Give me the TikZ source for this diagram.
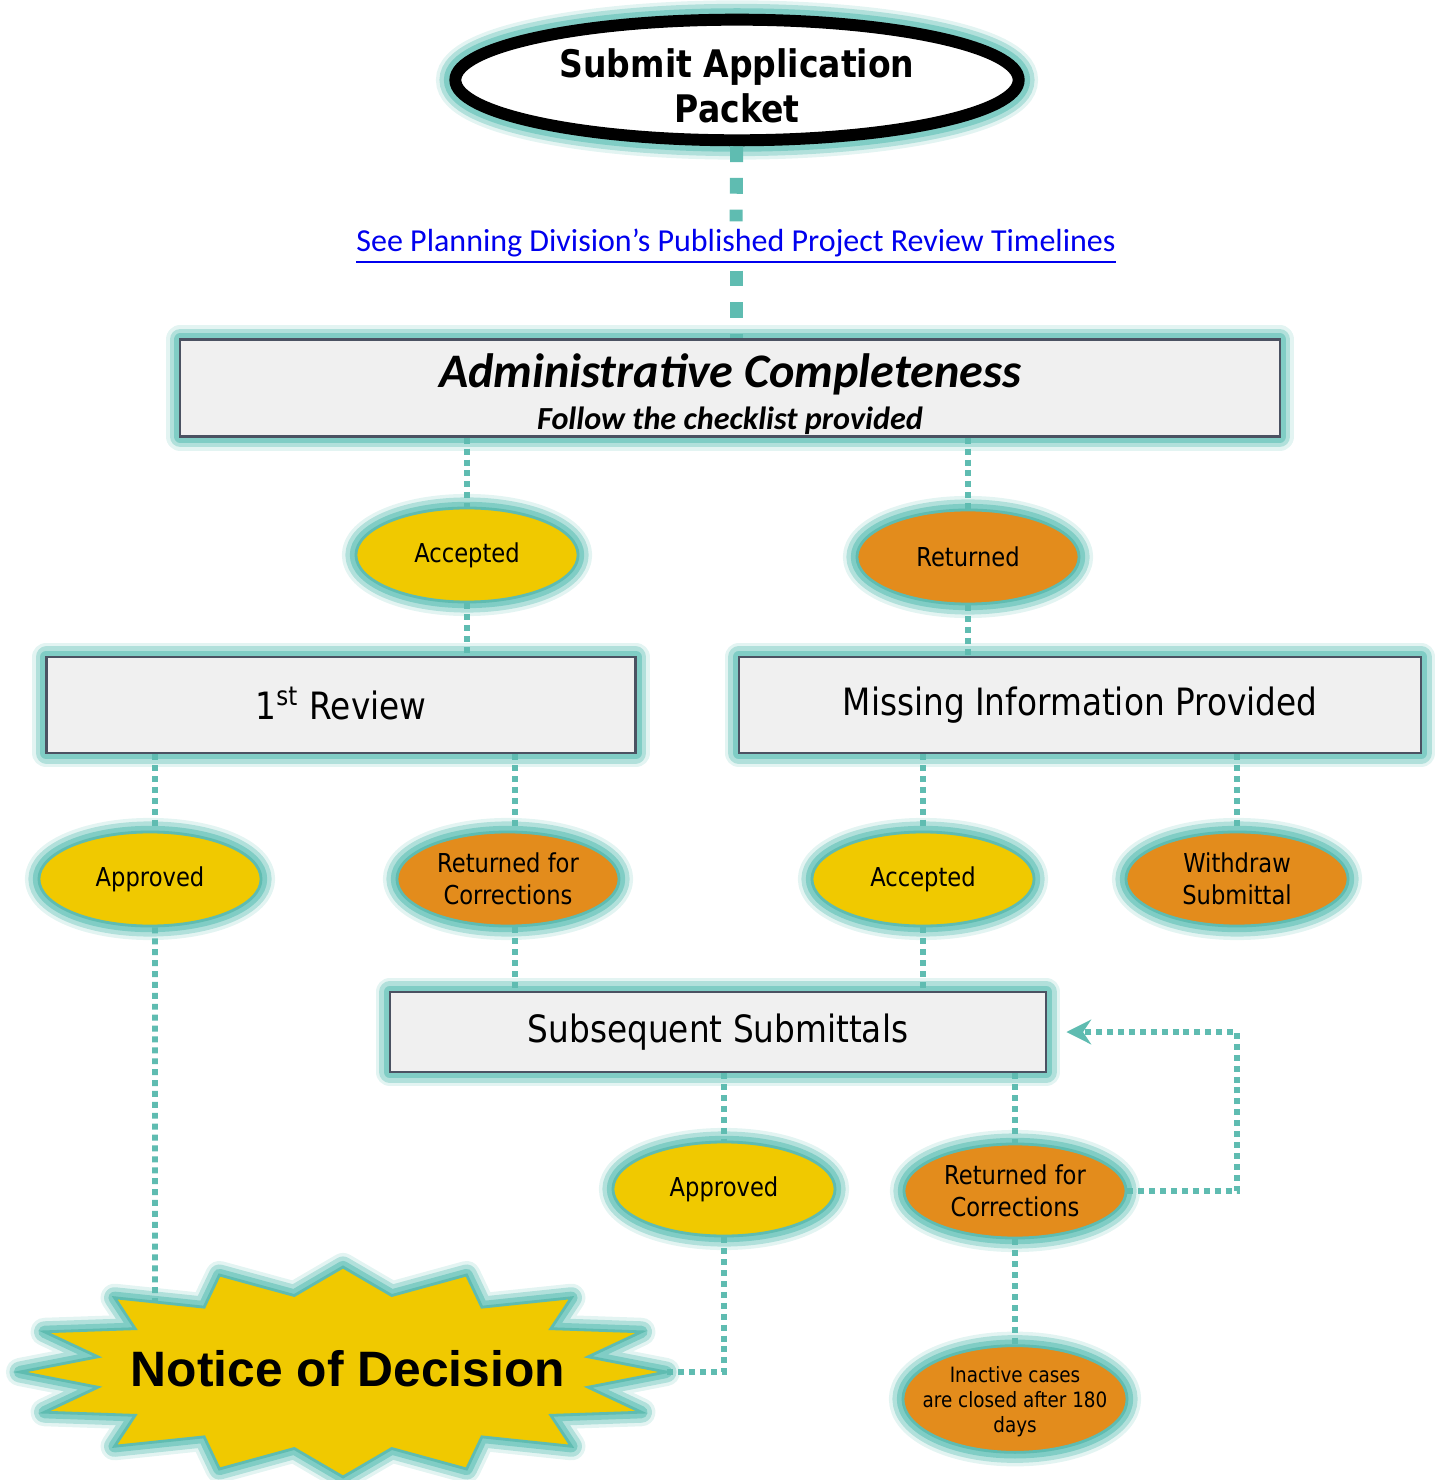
\documentclass[tikz,border=0pt]{standalone}
\usepackage{fontspec}
\setmainfont{DejaVu Sans}[FakeStretch=0.87]
\newfontfamily\calibrifont{Carlito}
\newfontfamily\arialfont{Liberation Sans}
\usepackage{tikz}
\usetikzlibrary{shapes.geometric, arrows.meta, positioning}

\definecolor{glowteal}{HTML}{74C8BF}
\definecolor{lineteal}{HTML}{5FBCB1}
\definecolor{goldfill}{HTML}{F0C900}
\definecolor{orangefill}{HTML}{E38C1C}
\definecolor{boxfill}{HTML}{F0F0F0}
\definecolor{boxline}{HTML}{4B5262}
\definecolor{linkblue}{HTML}{0000EE}

% underlined link text
\newcommand\linkline[1]{\leavevmode\vtop{\hbox{#1}\kern1.1pt\hrule height 0.55pt}}

\begin{document}
\begin{tikzpicture}[x=0.01cm, y=-0.01cm,
  glow/.style={preaction={draw=glowteal, line join=round, line width=8pt, opacity=.2},
               preaction={draw=glowteal, line join=round, line width=6pt, opacity=.45},
               preaction={draw=glowteal, line join=round, line width=3.5pt, opacity=.8}},
  stepbox/.style={glow, rectangle, draw=boxline, line width=0.7pt, fill=boxfill,
                  inner sep=0pt, minimum height=0.96cm,
                  font=\fontsize{10.7}{13}\selectfont},
  okoval/.style={glow, ellipse, draw=lineteal, line width=0.8pt, fill=goldfill,
                 minimum width=2.22cm, minimum height=0.94cm, inner sep=0pt,
                 align=center, font=\fontsize{7.4}{9.1}\selectfont},
  backoval/.style={okoval, fill=orangefill},
  conn/.style={draw=lineteal, line width=1.7pt, dash pattern=on 1.7pt off 1.4pt},
  bigconn/.style={conn, line width=3.7pt, dash pattern=on 4.5pt off 4.5pt}
]
\useasboundingbox (0,0) rectangle (1434,1480);

% Start
\node[ellipse, draw=black, line width=3.4pt, fill=white, inner sep=0pt,
      minimum width=5.63cm, minimum height=1.08cm, align=center,
      preaction={draw=glowteal, line width=11pt, opacity=.2},
      preaction={draw=glowteal, line width=9pt, opacity=.45},
      preaction={draw=glowteal, line width=6.5pt, opacity=.8},
      font=\bfseries\fontsize{10.8}{12.8}\selectfont] (submit) at (737,80)
      {\rule{0pt}{11.3pt}Submit Application\\Packet};
\node[font=\calibrifont\fontsize{9.1}{11}\selectfont, text=linkblue, inner sep=2pt] (link) at (736,246)
      {\linkline{See Planning Division’s Published Project Review Timelines}};

% Completeness check
\node[stepbox, minimum width=10.99cm, minimum height=0.97cm, align=center] (admin) at (730,388)
      {{\calibrifont\bfseries\itshape\fontsize{13.7}{15}\selectfont\rule{0pt}{13.2pt}Administrative Completeness}\\[-1pt]
       {\calibrifont\bfseries\itshape\fontsize{9.15}{11}\selectfont Follow the checklist provided}};
\node[okoval] (acc1) at (467,555) {Accepted};
\node[backoval] (ret1) at (968,557) {Returned};

% First round
\node[stepbox, minimum width=5.89cm] (review) at (341,705) {1\smash{\textsuperscript{st}} Review};
\node[stepbox, minimum width=6.82cm] (missing) at (1080,705) {Missing Information Provided};
\node[okoval] (app1) at (150,879) {Approved};
\node[backoval] (ret2) at (508,879) {Returned for\\Corrections};
\node[okoval] (acc2) at (923,879) {Accepted};
\node[backoval] (wd) at (1237,879) {Withdraw\\Submittal};

% Later rounds
\node[stepbox, minimum width=6.56cm, minimum height=0.80cm] (subs) at (718,1032) {Subsequent Submittals};
\node[okoval] (app2) at (724,1189) {Approved};
\node[backoval] (ret3) at (1015,1191) {Returned for\\Corrections};
\node[backoval, minimum width=2.24cm, minimum height=0.95cm, inner xsep=-5pt,
      font=\fontsize{6}{7.1}\selectfont] (inactive) at (1015,1399)
      {\rule{0pt}{6pt}Inactive cases\\are closed after 180\\days};

% Decision burst
\draw[glow, draw=lineteal, line width=0.8pt, fill=goldfill] (343+323,1372)
  \foreach \t in {0,22.5,...,337.5} {
    -- ({343+250*cos(\t+11.25)},{1372+78*sin(\t+11.25)})
    -- ({343+323*cos(\t+22.5)},{1372+105*sin(\t+22.5)})
  } -- cycle;
\node[font=\arialfont\bfseries\fontsize{14.15}{16}\selectfont] (nod) at (348,1369) {Notice of Decision};
\coordinate (nodtop) at (155,1302);
\coordinate (nodright) at (666,1372);

% Connectors
\draw[bigconn] (submit) -- (link);
\draw[bigconn] (link) -- (admin.north -| link);
\draw[conn] (acc1.north |- admin.south) -- (acc1.north);
\draw[conn] (acc1.south) -- (acc1.south |- review.north);
\draw[conn] (ret1.north |- admin.south) -- (ret1.north);
\draw[conn] (ret1.south) -- (ret1.south |- missing.north);
\draw[conn] ([xshift=0.05cm]app1.north |- review.south) -- ([xshift=0.05cm]app1.north);
\draw[conn] ([xshift=0.07cm]ret2.north |- review.south) -- ([xshift=0.07cm]ret2.north);
\draw[conn] (acc2.north |- missing.south) -- (acc2.north);
\draw[conn] (wd.north |- missing.south) -- (wd.north);
\draw[conn] ([xshift=0.07cm]ret2.south) -- ([xshift=0.07cm]ret2.south |- subs.north);
\draw[conn] (acc2.south) -- (acc2.south |- subs.north);
\draw[conn] (app2.north |- subs.south) -- (app2.north);
\draw[conn] (ret3.north |- subs.south) -- (ret3.north);
\draw[conn] ([xshift=0.05cm]app1.south) -- (nodtop);
\draw[conn] (app2.south) |- (nodright);
\draw[conn] (ret3.south) -- (inactive.north);
\draw[conn, -{Stealth[length=7pt, width=7pt]}] (ret3.east) -| (wd.center |- subs.east) -- ([xshift=0.19cm]subs.east);
\end{tikzpicture}
\end{document}
